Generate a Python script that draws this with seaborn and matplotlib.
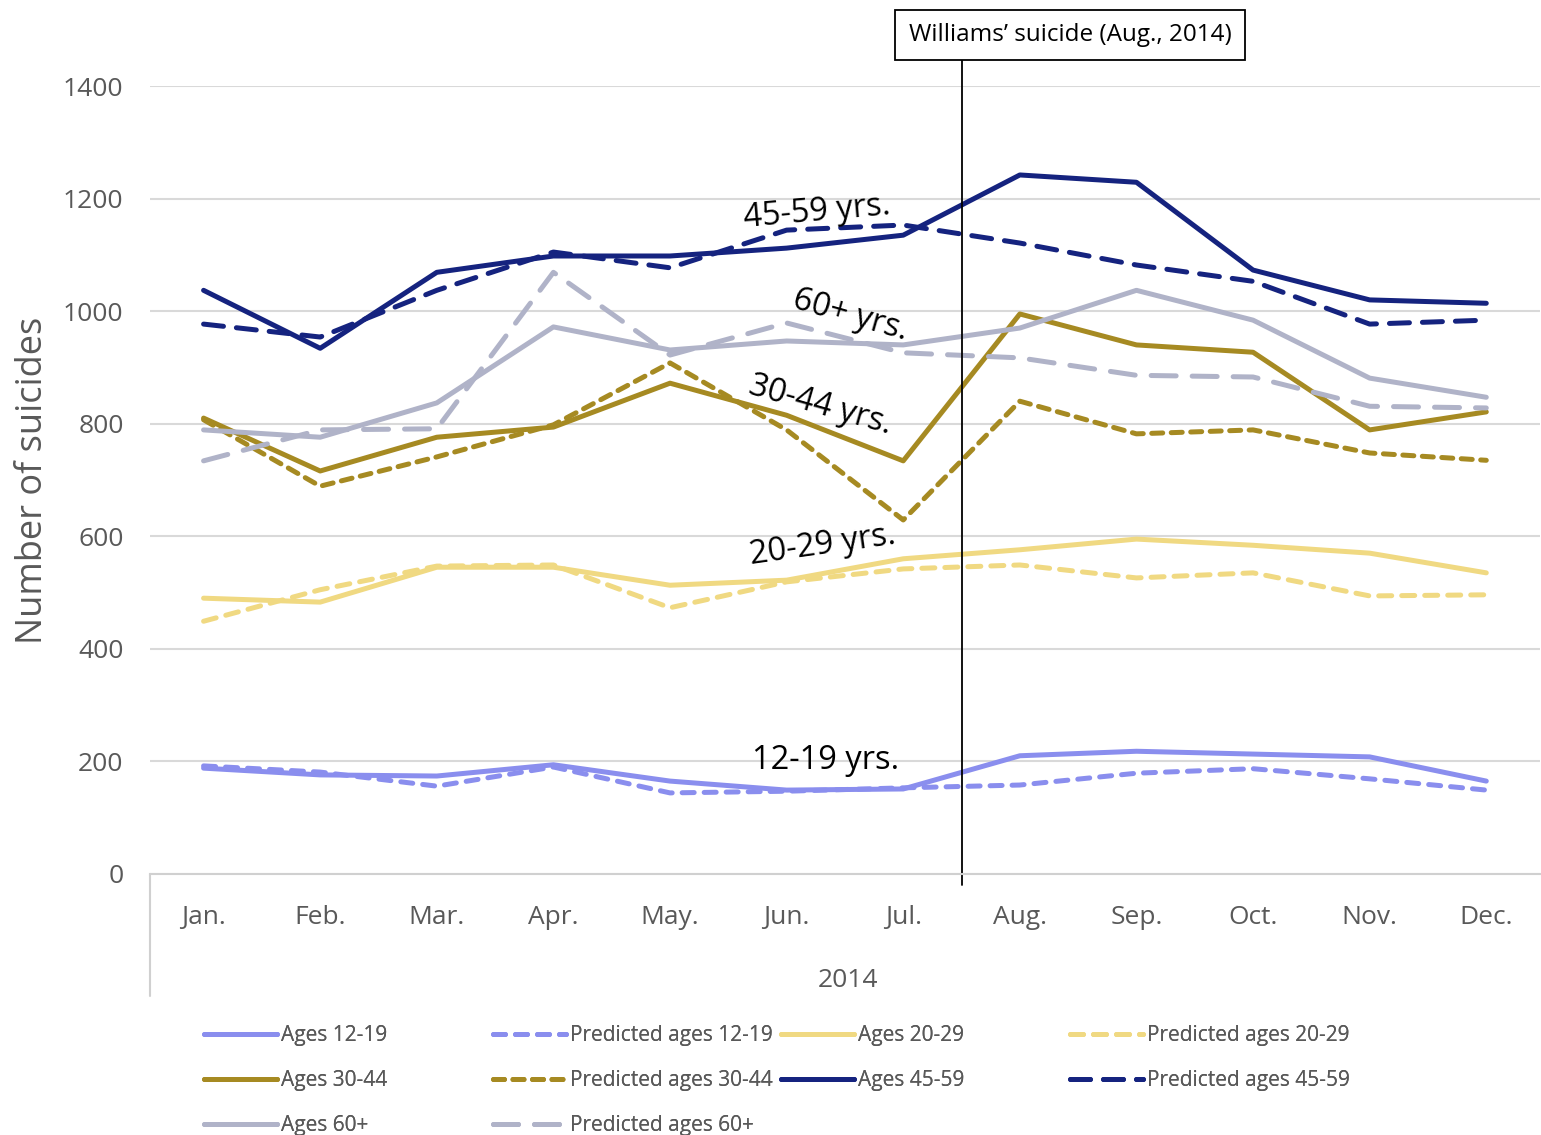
import numpy as np
import pandas as pd
import matplotlib
matplotlib.use("Agg")
import matplotlib.pyplot as plt
import matplotlib.transforms as mtransforms
import seaborn as sns

# ─── DATA ─────────────────────────────────────────────────────────────────────
months = ["Jan.", "Feb.", "Mar.", "Apr.", "May.", "Jun.",
          "Jul.", "Aug.", "Sep.", "Oct.", "Nov.", "Dec."]

ages_12_19 = [188, 176, 174, 194, 165, 149, 151, 210, 218, 213, 208, 165]
pred_12_19 = [192, 181, 156, 190, 144, 147, 153, 158, 179, 187, 169, 149]
ages_20_29 = [490, 483, 545, 545, 513, 522, 560, 576, 595, 584, 570, 535]
pred_20_29 = [449, 505, 547, 549, 473, 519, 542, 549, 526, 535, 494, 496]
ages_30_44 = [810, 716, 776, 794, 872, 815, 734, 995, 940, 927, 789, 821]
pred_30_44 = [807, 689, 741, 798, 908, 789, 629, 840, 782, 789, 748, 735]
ages_45_59 = [1037, 934, 1069, 1098, 1098, 1112, 1135, 1242, 1229, 1073, 1020, 1014]
pred_45_59 = [977, 954, 1037, 1105, 1077, 1144, 1153, 1121, 1082, 1053, 977, 984]
ages_60 = [789, 776, 837, 972, 931, 947, 940, 970, 1037, 984, 881, 847]
pred_60 = [734, 789, 791, 1069, 922, 979, 926, 917, 886, 883, 831, 828]

series_names = ["Ages 12-19", "Predicted ages 12-19", "Ages 20-29", "Predicted ages 20-29",
                "Ages 30-44", "Predicted ages 30-44", "Ages 45-59", "Predicted ages 45-59",
                "Ages 60+", "Predicted ages 60+"]
series_values = [ages_12_19, pred_12_19, ages_20_29, pred_20_29, ages_30_44, pred_30_44,
                 ages_45_59, pred_45_59, ages_60, pred_60]

# ─── STYLE ────────────────────────────────────────────────────────────────────
C_1219 = "#8a8eee"
C_2029 = "#f0d982"
C_3044 = "#a68a22"
C_4559 = "#15237f"
C_60 = "#b0b3c8"
colors = [C_1219, C_1219, C_2029, C_2029, C_3044, C_3044, C_4559, C_4559, C_60, C_60]
dashes = [None, (2.4, 2.0), None, (2.6, 2.0), None, (2.2, 1.7),
          None, (4.0, 2.6), None, (5.0, 3.2)]

sns.set_theme(style="white")
plt.rcParams["font.family"] = ["Open Sans", "DejaVu Sans"]
GREY_TXT = "#595959"

df = pd.DataFrame({"month": np.tile(np.arange(len(months)), len(series_names)),
                   "value": np.concatenate(series_values),
                   "series": np.repeat(series_names, len(months))})

fig = plt.figure(figsize=(15.41, 11.35), dpi=100)
ax = fig.add_axes([0.0973, 0.2300, 0.9020, 0.6942])

handles = {}
for name, col, dsh in zip(series_names, colors, dashes):
    sub = df[df["series"] == name]
    sns.lineplot(data=sub, x="month", y="value", ax=ax, color=col, lw=3.6,
                 legend=False, sort=False)
    line = ax.lines[-1]
    line.set_solid_capstyle("round")
    line.set_solid_joinstyle("round")
    if dsh is not None:
        line.set_dashes(dsh)
        line.set_dash_capstyle("round")
    handles[name] = line

ax.set_xlim(-0.46, 11.46)
ax.set_ylim(0, 1400)
ax.set_yticks(np.arange(0, 1401, 200))
ax.set_xticks(np.arange(len(months)))
ax.set_xticklabels(months)
ax.yaxis.grid(True, color="#d9d9d9", lw=1.5)
ax.xaxis.grid(False)
for s in ["top", "right", "left"]:
    ax.spines[s].set_visible(False)
ax.spines["bottom"].set_color("#d0d0d0")
ax.spines["bottom"].set_linewidth(1.5)
ax.tick_params(axis="y", length=0, pad=19, labelsize=19, labelcolor=GREY_TXT)
ax.tick_params(axis="x", length=0, pad=22, labelsize=19, labelcolor=GREY_TXT)

ax.set_ylabel("Number of suicides", fontsize=26, color=GREY_TXT)
ax.yaxis.set_label_coords(-0.071, 0.5)
ax.set_xlabel("2014", fontsize=19, color=GREY_TXT)
ax.xaxis.set_label_coords(0.502, -0.119)

# category axis separator below the plot
ax.plot([0, 0], [0, -0.155], transform=ax.transAxes, color="#d0d0d0", lw=1.5, clip_on=False)

# event line between Jul. and Aug.
trans = mtransforms.blended_transform_factory(ax.transData, ax.transAxes)
ax.plot([6.5, 6.5], [-0.014, 1.033], transform=trans, color="black", lw=1.3, clip_on=False)
fig.text(0.6943, 1 - 35 / 1135, "Williams\u2019 suicide (Aug., 2014)", fontsize=17.5,
         ha="center", va="center", color="black",
         bbox=dict(boxstyle="square,pad=0.55", fc="white", ec="black", lw=1.3))

# series labels
lab_kw = dict(fontsize=23.5, color="black", ha="center", va="center")
ax.text(5.26, 1176, "45-59 yrs.", rotation=5, **lab_kw)
ax.text(5.55, 993, "60+ yrs.", rotation=-16, **lab_kw)
ax.text(5.29, 833, "30-44 yrs.", rotation=-16, **lab_kw)
ax.text(5.31, 584, "20-29 yrs.", rotation=8, **lab_kw)
ax.text(5.33, 201, "12-19 yrs.", rotation=0, **lab_kw)

# legend: one block per column so the columns are evenly spaced
columns = [["Ages 12-19", "Ages 30-44", "Ages 60+"],
           ["Predicted ages 12-19", "Predicted ages 30-44", "Predicted ages 60+"],
           ["Ages 20-29", "Ages 45-59"],
           ["Predicted ages 20-29", "Predicted ages 45-59"]]
col_x = [204, 493, 781, 1070]
for names, px in zip(columns, col_x):
    leg = fig.legend([handles[n] for n in names], names, loc="upper left",
                     bbox_to_anchor=(px / 1541, 1 - 1025 / 1135), frameon=False,
                     fontsize=15, handlelength=3.5, handletextpad=0.2,
                     labelspacing=1.15, borderpad=0, borderaxespad=0,
                     labelcolor=GREY_TXT)
    fig.add_artist(leg)

fig.savefig("out.png", dpi=100)
